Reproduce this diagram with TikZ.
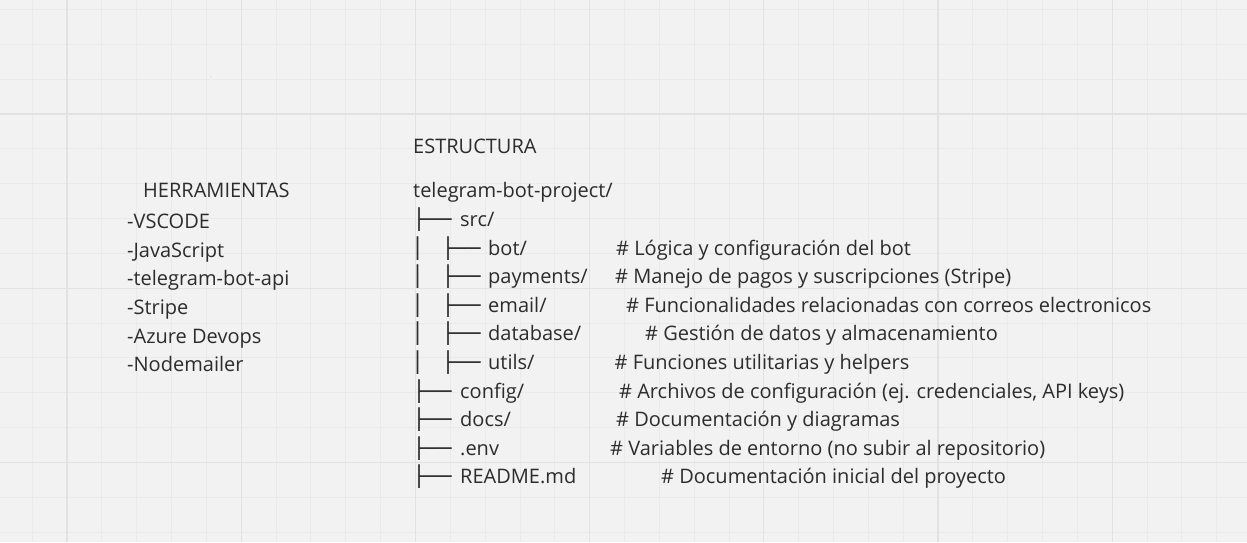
\documentclass[tikz,border=0pt]{standalone}
\usepackage{fontspec}
\setmainfont{Open Sans}
\newfontfamily\boxfont[FakeStretch=1.08]{DejaVu Sans}
\definecolor{bg}{HTML}{F2F2F2}
\definecolor{gridminor}{HTML}{EAEAEA}
\definecolor{gridmajor}{HTML}{E2E2E2}
\definecolor{ink}{HTML}{2C2C2C}
\begin{document}
\begin{tikzpicture}[x=1pt,y=-1pt,
  txt/.style={anchor=base west, inner sep=0pt, text=ink, font=\fontsize{20}{24}\selectfont},
  treebox/.style={anchor=base west, inner sep=0pt, text=ink, font=\boxfont\fontsize{20}{24}\selectfont},
  minorline/.style={draw=gridminor, line width=0.8pt},
  majorline/.style={draw=gridmajor, line width=1.3pt}]
\fill[bg] (0,0) rectangle (1247,542);
\useasboundingbox (0,0) rectangle (1247,542);
% grid
\foreach \i in {-1,...,34} { \draw[minorline] ({67+\i*34.84},0) -- ({67+\i*34.84},542); }
\foreach \i in {-3,...,12} { \draw[minorline] (0,{114+\i*34.84}) -- (1247,{114+\i*34.84}); }
\foreach \i in {0,...,6} { \draw[majorline] ({67+\i*174.2},0) -- ({67+\i*174.2},542); }
\foreach \i in {0,...,2} { \draw[majorline] (0,{114+\i*174.2}) -- (1247,{114+\i*174.2}); }
\fill[gridmajor!80!black!40] (211,77) circle (0.9);
% tools
\node[txt] (herr) at (143,197) {HERRAMIENTAS};
\node[txt] (t1) at (127,228.6) {-VSCODE};
\node[txt] (t2) at (127,257.2) {-JavaScript};
\node[txt] (t3) at (127,285.8) {-telegram-bot-api};
\node[txt] (t4) at (127,314.4) {-Stripe};
\node[txt] (t5) at (127,343) {-Azure Devops};
\node[txt] (t6) at (127,371.6) {-Nodemailer};
% structure
\node[txt] (est) at (413,153) {ESTRUCTURA};
\node[txt] (root) at (413,197) {telegram-bot-project/};
% level 1 src
\node[treebox] (p1) at (412.5,226) {├──};
\node[txt] (src) at (460,226) {src/};
% level 2
\foreach \nm/\y/\cx/\cm in {bot/255/616/{\# Lógica y configuración del bot},
  payments/283.6/615/{\# Manejo de pagos y suscripciones (Stripe)},
  email/312.2/626/{\# Funcionalidades relacionadas con correos electronicos},
  database/340.8/645/{\# Gestión de datos y almacenamiento},
  utils/369.4/614.5/{\# Funciones utilitarias y helpers}}{
  \node[treebox] (v\nm) at (411,\y) {│};
  \node[treebox] (b\nm) at (441.5,\y) {├──};
  \node[txt] (n\nm) at (488,\y) {\nm/};
  \node[txt] (c\nm) at (\cx,\y) {\cm};
}
% level 1 rest
\foreach \key/\nm/\y/\cx/\cm in {config/{config/}/398/619/{\# Archivos de configuración (ej. credenciales, API keys)},
  docs/{docs/}/426.6/616/{\# Documentación y diagramas},
  env/{.env}/455.2/610/{\# Variables de entorno (no subir al repositorio)},
  readme/{README.md}/483.8/661/{\# Documentación inicial del proyecto}}{
  \node[treebox] (b\key) at (412.5,\y) {├──};
  \node[txt] (n\key) at (460,\y) {\nm};
  \node[txt] (c\key) at (\cx,\y) {\cm};
}
\end{tikzpicture}
\end{document}
